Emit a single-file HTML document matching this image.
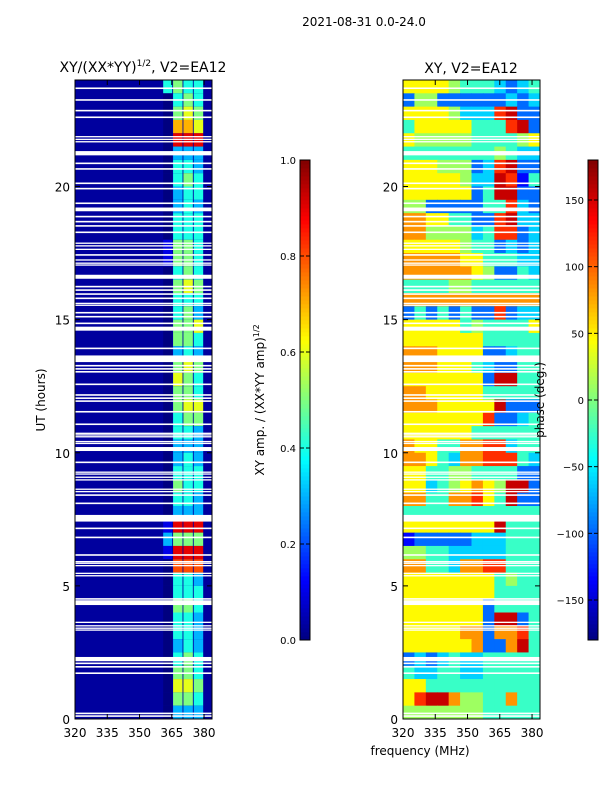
<!DOCTYPE html>
<html><head><meta charset="utf-8">
<style>
html,body{margin:0;padding:0;background:#fff;}
svg{display:block;font-family:"DejaVu Sans","Liberation Sans",sans-serif;}
</style></head>
<body>
<svg id="fig" width="600" height="800" viewBox="0 0 600 800" xmlns="http://www.w3.org/2000/svg">
  <text x="364" y="26" font-size="12" text-anchor="middle">2021-08-31 0.0-24.0</text>
  <text x="143" y="72" font-size="14" text-anchor="middle">XY/(XX*YY)<tspan font-size="9" dy="-6">1/2</tspan><tspan dy="6">, V2=EA12</tspan></text>
  <text x="471" y="73" font-size="14" text-anchor="middle">XY, V2=EA12</text>
  <text transform="translate(45,400) rotate(-90)" font-size="12" text-anchor="middle">UT (hours)</text>
  <text x="420" y="755" font-size="12" text-anchor="middle">frequency (MHz)</text>
  <text transform="translate(264,400) rotate(-90)" font-size="12" text-anchor="middle">XY amp. / (XX*YY amp)<tspan font-size="8" dy="-5">1/2</tspan></text>
  <g id="left"></g>
  <g id="right"></g>
  <g id="axes"></g>
  <text transform="translate(544,400) rotate(-90)" font-size="12" text-anchor="middle">phase (deg.)</text>
</svg>
<script>
// ---- data ----
const hourTicks = [0, 5, 10, 15, 20];
const freqTicks = [320, 335, 350, 365, 380];
const ampTicks = [0.0, 0.2, 0.4, 0.6, 0.8, 1.0];
const phaseTicks = [-150, -100, -50, 0, 50, 100, 150];
// left panel: rows of 0.5 h from 24 down to 0; first digit = background, then four band strips (value = d/10)
const ampRows = ["04544","00454","00565","00776","00999","00333","00443","00454","00344","00343","00444","00444","01554","01554","00454","00565","00444","00453","00556","00554","00343","00565","00654","00554","00566","00455","00443","00333","00343","00444","00544","00443","00333","01999","03555","01999","00888","00443","00444","00554","00443","00443","00343","00454","00554","00665","00554","00333"];
const ampStrips = [[361, 365.2], [365.6, 370], [370.4, 374.8], [375.2, 379.6]];
// right panel: rows of 0.5 h from 24 down to 0; 12 freq columns; colour level digit
const phaseRows = ["666654443234","255222222323","666653338922","466666444892","655555444456","444444445433","666555238922","666665339814","666666249922","552222244832","776644228933","775555348823","666665442323","777776644433","777777652243","444455444444","777777777777","242424228233","666664544446","666666644444","777666622344","777666432244","666666629944","776666644444","777666669222","666666682234","666666444444","766447788344","776437788843","664455444422","663456765992","774477864922","444444444444","666666669444","122222333444","554433333444","774437788444","666666664544","666666664444","666666624444","666666629924","666667727784","666666722794","232343344444","433443344444","664444444444","689975544744","555555544444"];
// flagged (blank) times in hours and their widths
const gapHours = [23.69,23.25,22.85,22.60,21.87,21.77,21.68,21.25,20.87,20.66,20.12,19.92,19.37,19.14,18.87,18.68,18.52,18.28,17.87,17.77,17.64,17.43,17.24,17.12,17.05,16.61,16.24,16.11,15.96,15.80,15.61,15.54,15.26,15.11,14.86,14.66,13.92,13.53,13.27,13.15,13.04,12.57,12.17,12.05,11.94,11.54,11.07,10.73,10.67,10.60,10.42,10.35,10.14,9.64,9.27,9.20,9.08,8.98,8.63,8.54,8.41,8.10,7.54,7.16,6.82,6.16,5.91,5.85,5.76,5.47,5.38,4.51,4.37,3.63,3.50,3.41,3.34,2.25,2.09,1.96,1.72,0.21,0.11];
const gapWidths = [0.06,0.06,0.06,0.06,0.05,0.05,0.05,0.16,0.06,0.06,0.06,0.06,0.06,0.14,0.06,0.06,0.06,0.06,0.05,0.05,0.05,0.06,0.05,0.05,0.05,0.15,0.06,0.06,0.06,0.06,0.05,0.05,0.06,0.06,0.06,0.15,0.06,0.25,0.06,0.06,0.06,0.06,0.06,0.06,0.06,0.06,0.06,0.05,0.05,0.05,0.05,0.05,0.15,0.06,0.05,0.05,0.05,0.05,0.05,0.05,0.06,0.06,0.25,0.06,0.06,0.06,0.05,0.05,0.05,0.05,0.05,0.06,0.18,0.05,0.05,0.05,0.05,0.16,0.06,0.06,0.06,0.06,0.06];

// ---- scales ----
const NS = "http://www.w3.org/2000/svg";
const L = {x0: 75, x1: 212}, R = {x0: 403, x1: 540};
const Y0 = 80, Y1 = 719, FMIN = 320, FMAX = 383.7;
function yH(h) { return Y1 - (h / 24) * (Y1 - Y0); }
function xF(p, f) { return p.x0 + (f - FMIN) / (FMAX - FMIN) * (p.x1 - p.x0); }
function jet(v) {
  v = Math.max(0, Math.min(1, v));
  const c = t => Math.round(255 * Math.max(0, Math.min(1, t)));
  return "rgb(" + c(1.5 - Math.abs(4 * v - 3)) + "," + c(1.5 - Math.abs(4 * v - 2)) + "," + c(1.5 - Math.abs(4 * v - 1)) + ")";
}
function mk(tag, attrs, parent) {
  const e = document.createElementNS(NS, tag);
  for (const k in attrs) e.setAttribute(k, attrs[k]);
  parent.appendChild(e);
  return e;
}
const gL = document.getElementById("left"), gR = document.getElementById("right"), gA = document.getElementById("axes");
const rowH = 24 / ampRows.length;

// ---- left heatmap ----
ampRows.forEach((row, i) => {
  const hTop = 24 - i * rowH, hBot = hTop - rowH;
  const bg = mk("rect", {x: L.x0, y: yH(hTop), width: L.x1 - L.x0, height: yH(hBot) - yH(hTop) + 0.5, fill: jet(+row[0] / 10 + 0.03)}, gL);
  
  
  ampStrips.forEach((s, j) => {
    const r = mk("rect", {x: xF(L, s[0]), y: yH(hTop), width: xF(L, s[1]) - xF(L, s[0]), height: yH(hBot) - yH(hTop) + 0.5, fill: jet(+row[j + 1] / 10)}, gL);
    
    
  });
});
// ---- right heatmap ----
phaseRows.forEach((row, i) => {
  const hTop = 24 - i * rowH, hBot = hTop - rowH;
  const n = row.length, fw = (FMAX - FMIN) / n;
  for (let j = 0; j < n; j++) {
    const ph = -180 + (+row[j] / 10 + 0.03) * 360;
    const r = mk("rect", {x: xF(R, FMIN + j * fw), y: yH(hTop), width: xF(R, FMIN + (j + 1) * fw) - xF(R, FMIN + j * fw) + 0.5, height: yH(hBot) - yH(hTop) + 0.5, fill: jet((ph + 180) / 360)}, gR);
    
    
  }
});
// ---- flagged gaps ----
[[gL, L], [gR, R]].forEach(([g, p]) => {
  gapHours.forEach((h, k) => {
    const w = gapWidths[k];
    const r = mk("rect", {x: p.x0, y: yH(h + w / 2), width: p.x1 - p.x0, height: Math.max(1.2, yH(h - w / 2) - yH(h + w / 2)), fill: "#fff"}, g);
    
    
  });
});
// ---- axes frames, ticks ----
[L, R].forEach((p, pi) => {
  const fr = mk("rect", {x: p.x0, y: Y0, width: p.x1 - p.x0, height: Y1 - Y0, fill: "none", stroke: "#000", "stroke-width": 1}, gA);
  
  
  hourTicks.forEach(h => {
    const y = yH(h);
    mk("line", {x1: p.x0, x2: p.x0 + 5, y1: y, y2: y, stroke: "#000"}, gA);
    mk("line", {x1: p.x1, x2: p.x1 - 5, y1: y, y2: y, stroke: "#000"}, gA);
    const t = mk("text", {x: p.x0 - 5, y: y + 5, "font-size": 12, "text-anchor": "end"}, gA);
    t.textContent = h;
    
    
  });
  freqTicks.forEach(f => {
    const x = xF(p, f);
    mk("line", {x1: x, x2: x, y1: Y1, y2: Y1 - 5, stroke: "#000"}, gA);
    mk("line", {x1: x, x2: x, y1: Y0, y2: Y0 + 5, stroke: "#000"}, gA);
    const t = mk("text", {x: x, y: Y1 + 18, "font-size": 12, "text-anchor": "middle"}, gA);
    t.textContent = f;
    
    
  });
});
// ---- colorbars ----
const CB0 = 160, CB1 = 640;
function colorbar(x, ticks, vmin, vmax, name, fmt) {
  const n = 120, hgt = (CB1 - CB0) / n;
  for (let i = 0; i < n; i++) {
    mk("rect", {x: x, y: CB1 - (i + 1) * hgt, width: 10, height: hgt + 0.4, fill: jet((i + 0.5) / n)}, gA);
  }
  const f = mk("rect", {x: x, y: CB0, width: 10, height: CB1 - CB0, fill: "none", stroke: "#000", "stroke-width": 1}, gA);
  
  
  ticks.forEach(v => {
    const y = CB1 - (v - vmin) / (vmax - vmin) * (CB1 - CB0);
    mk("line", {x1: x + 10, x2: x + 6, y1: y, y2: y, stroke: "#000"}, gA);
    mk("line", {x1: x, x2: x + 4, y1: y, y2: y, stroke: "#000"}, gA);
    const t = mk("text", {x: x - 4, y: y + 4, "font-size": 10, "text-anchor": "end"}, gA);
    t.textContent = fmt(v);
    
    
  });
}
colorbar(300, ampTicks, 0, 1, 'amp-colorbar', v => v.toFixed(1));
colorbar(588, phaseTicks, -180, 180, 'phase-colorbar', v => v < 0 ? "\u2212" + (-v) : "" + v);
</script>
</body></html>
